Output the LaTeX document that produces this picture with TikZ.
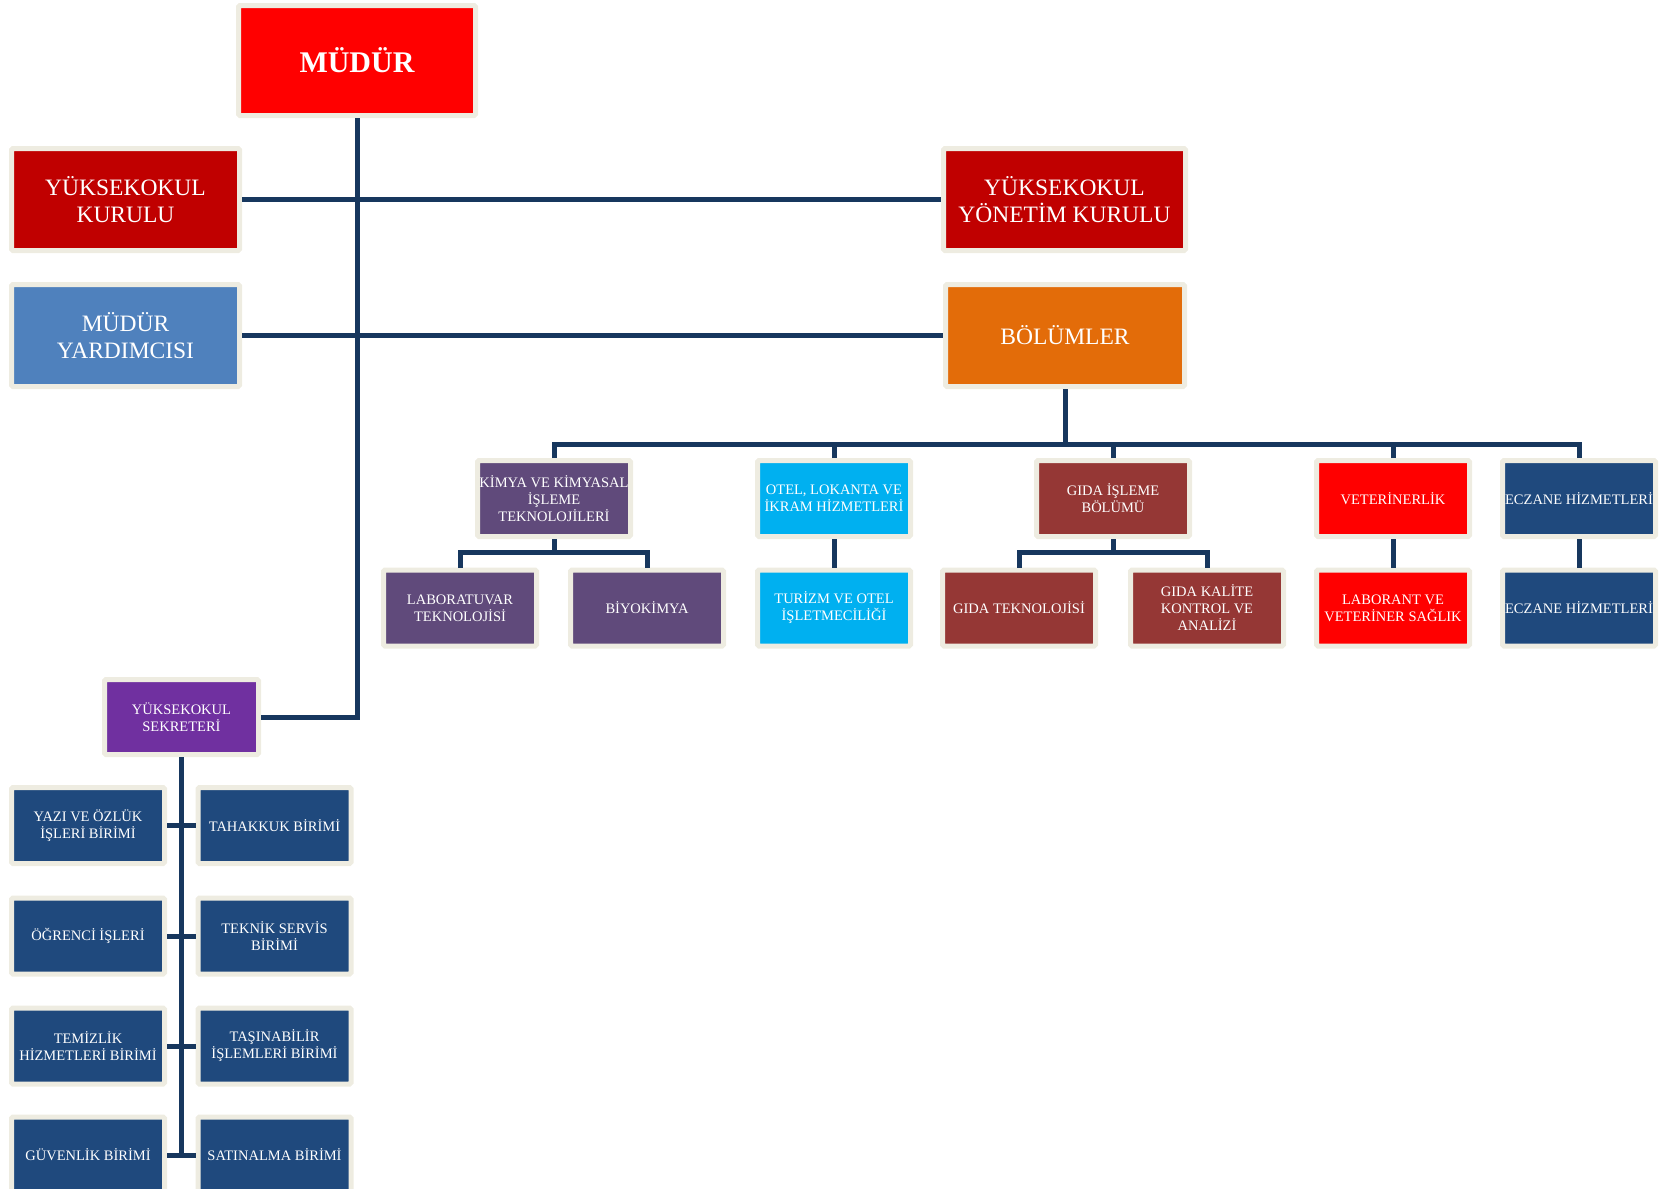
\documentclass[tikz,border=0pt]{standalone}
\usepackage{fontspec}
\setmainfont{Liberation Serif}
\usetikzlibrary{calc}
\definecolor{frame}{HTML}{EEECE1}
\definecolor{lineblue}{HTML}{17375E}
\definecolor{redtop}{HTML}{FF0000}
\definecolor{darkred}{HTML}{C00000}
\definecolor{lightblue}{HTML}{4F81BD}
\definecolor{orange}{HTML}{E36C09}
\definecolor{plum}{HTML}{604A7B}
\definecolor{cyan}{HTML}{00B0F0}
\definecolor{brick}{HTML}{953735}
\definecolor{navy}{HTML}{1F497D}
\definecolor{violet}{HTML}{7030A0}

\begin{document}
\begin{tikzpicture}[x=1pt,y=-1pt,
	box/.style={draw=frame, line width=5pt, rounded corners=1.5pt, text=white, align=center, inner sep=0pt,
		font=\fontsize{14.5}{17}\selectfont, minimum width=153pt, minimum height=76pt},
	bigbox/.style={box, font=\fontsize{23.5}{27.5}\selectfont, minimum width=228pt, minimum height=102pt},
	link/.style={draw=lineblue, line width=5pt}]
	\useasboundingbox (0,0) rectangle (1663,1189);
	
	\node[bigbox, fill=redtop, minimum width=237pt, minimum height=110pt, font=\fontsize{30}{34}\selectfont\bfseries] (mudur) at (357,60.5) {MÜDÜR};
	\node[bigbox, fill=darkred] (ykurul) at (125.5,199.5) {YÜKSEKOKUL\\KURULU};
	\node[bigbox, fill=lightblue] (myard) at (125.5,335.5) {MÜDÜR\\YARDIMCISI};
	\node[bigbox, fill=darkred, minimum width=242pt] (yonetim) at (1064.5,199.5) {YÜKSEKOKUL\\YÖNETİM KURULU};
	\node[bigbox, fill=orange, minimum width=239pt] (bolum) at (1065,335.5) {BÖLÜMLER};
	
	% bolumler
	\node[box, fill=plum] (kimya) at (554,498.5) {KİMYA VE KİMYASAL\\İŞLEME\\TEKNOLOJİLERİ};
	\node[box, fill=cyan] (otel) at (834,498.5) {OTEL, LOKANTA VE\\İKRAM HİZMETLERİ};
	\node[box, fill=brick] (gida) at (1113,498.5) {GIDA İŞLEME\\BÖLÜMÜ};
	\node[box, fill=redtop] (vet) at (1393,498.5) {VETERİNERLİK};
	\node[box, fill=navy] (eczane) at (1579,498.5) {ECZANE HİZMETLERİ};
	
	\node[box, fill=plum] (lab) at (460,608) {LABORATUVAR\\TEKNOLOJİSİ};
	\node[box, fill=plum] (biyo) at (647,608) {BİYOKİMYA};
	\node[box, fill=cyan] (turizm) at (834,608) {TURİZM VE OTEL\\İŞLETMECİLİĞİ};
	\node[box, fill=brick] (gidatek) at (1019,608) {GIDA TEKNOLOJİSİ};
	\node[box, fill=brick] (gidakal) at (1207,608) {GIDA KALİTE\\KONTROL VE\\ANALİZİ};
	\node[box, fill=redtop] (laborant) at (1393,608) {LABORANT VE\\VETERİNER SAĞLIK};
	\node[box, fill=navy] (eczsub) at (1579,608) {ECZANE HİZMETLERİ};
	
	% sekreterlik
	\node[box, fill=violet, minimum width=154pt, minimum height=75pt] (sekreter) at (181.5,717) {YÜKSEKOKUL\\SEKRETERİ};
	\node[box, fill=navy] (yazi) at (88,825.5) {YAZI VE ÖZLÜK\\İŞLERİ BİRİMİ};
	\node[box, fill=navy] (tahakkuk) at (274.5,825.5) {TAHAKKUK BİRİMİ};
	\node[box, fill=navy] (ogrenci) at (88,936) {ÖĞRENCİ İŞLERİ};
	\node[box, fill=navy] (teknik) at (274.5,936) {TEKNİK SERVİS\\BİRİMİ};
	\node[box, fill=navy] (temizlik) at (88,1046) {TEMİZLİK\\HİZMETLERİ BİRİMİ};
	\node[box, fill=navy] (tasinabilir) at (274.5,1046) {TAŞINABİLİR\\İŞLEMLERİ BİRİMİ};
	\node[box, fill=navy] (guvenlik) at (88,1155) {GÜVENLİK BİRİMİ};
	\node[box, fill=navy] (satinalma) at (274.5,1155) {SATINALMA BİRİMİ};
	
	\coordinate (bus) at (1065,444);
	\coordinate (kbus) at (554,552);
	\coordinate (gbus) at (1113,552);
	\coordinate (send) at (181.5,1155);
	
	\draw[link] (ykurul.east) -- (yonetim.west);
	\draw[link] (myard.east) -- (bolum.west);
	\draw[link] (mudur.south) |- (sekreter.east);
	
	\draw[link] (bolum.south) -- (bus);
	\draw[link] (kimya.north) |- (bus) -| (eczane.north);
	\foreach \d in {otel,gida,vet}
		\draw[link] (\d.north) -- (\d.north |- bus);
	\draw[link] (kimya.south) -- (kbus);
	\draw[link] (lab.north) |- (kbus) -| (biyo.north);
	\draw[link] (gida.south) -- (gbus);
	\draw[link] (gidatek.north) |- (gbus) -| (gidakal.north);
	\draw[link] (otel.south) -- (turizm.north);
	\draw[link] (vet.south) -- (laborant.north);
	\draw[link] (eczane.south) -- (eczsub.north);
	
	\draw[link] (sekreter.south) -- (send);
	\draw[link] (yazi.east) -- (tahakkuk.west);
	\draw[link] (ogrenci.east) -- (teknik.west);
	\draw[link] (temizlik.east) -- (tasinabilir.west);
	\draw[link] (guvenlik.east) -- (satinalma.west);
\end{tikzpicture}
\end{document}
